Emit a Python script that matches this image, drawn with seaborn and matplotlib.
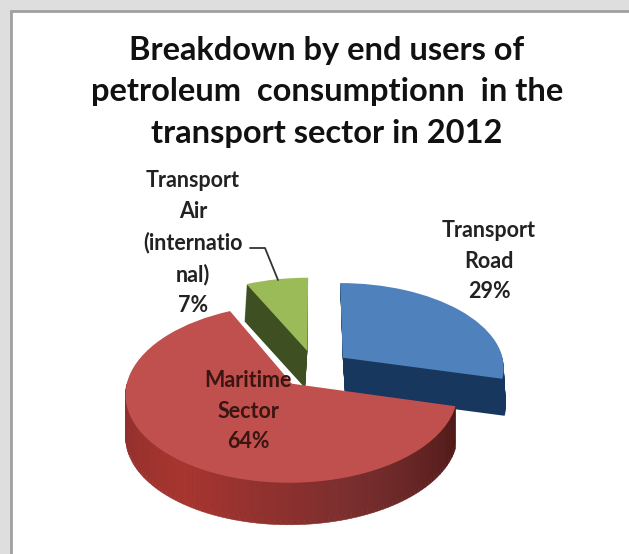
import numpy as np
import seaborn as sns
import matplotlib
matplotlib.use("Agg")
import matplotlib.pyplot as plt
from matplotlib.patches import Rectangle
from matplotlib.transforms import Transform

title = "Breakdown by end users of\npetroleum  consumptionn  in the\ntransport sector in 2012"
labels = ["Transport\nRoad", "Maritime\nSector", "Transport\nAir\n(internatio\nnal)"]
shares = [29, 64, 7]
explode = [0.22, 0.22, 0.22]
top_colors = ["#4F81BD", "#C0504D", "#9BBB59"]
side_colors = ["#17375E", "#7A2E2E", "#3E4F22"]
rim_colors = ["#8C2F2C", "#A8352F", "#7A2E2E", "#4D1A18"]


class Tilt(Transform):
    # unit pie -> pixels, far side squeezed a bit like the old 3D pies
    input_dims = 2
    output_dims = 2

    def __init__(self, drop=0, slide=0):
        super().__init__()
        self.drop = drop
        self.slide = slide

    def transform_non_affine(self, values):
        x, y = np.asarray(values).T
        w = 1 + 0.108 * y
        return np.column_stack([315 + 162 * x / w + self.slide, 369 - 85 * y / w + self.drop])


sns.set_theme(style="white")
plt.rcParams["font.family"] = ["Lato", "DejaVu Sans"]

fig = plt.figure(figsize=(6.29, 5.54), dpi=100, facecolor="#DEDEDE")
ax = fig.add_axes([0, 0, 1, 1])


def draw_pie(colors, drop, zorder):
    wedges, _ = ax.pie(shares, colors=colors, explode=explode, startangle=90,
                       counterclock=False, wedgeprops=dict(linewidth=0))
    slides = [0.06 * drop, 0, -0.06 * drop]
    for w, s in zip(wedges, slides):
        w.set_transform(Tilt(drop, s) + ax.transData)
        w.set_zorder(zorder)
    return wedges


for d in range(37, 0, -1):
    draw_pie(side_colors, d, 1)

top = draw_pie(top_colors, 0, 3)

# shaded outer wall of the big slice
red = top[1]
angles = np.linspace(-180, red.theta2, 90)
if red.theta2 > 180:
    angles = np.linspace(180, red.theta2, 90)
pal = sns.blend_palette(rim_colors, len(angles) - 1)
upper = Tilt(0)
lower = Tilt(42)
for a0, a1, c in zip(angles[:-1], angles[1:], pal):
    arc = np.deg2rad([a0, a1])
    pts = np.column_stack([red.center[0] + np.cos(arc), red.center[1] + np.sin(arc)])
    up = upper.transform(pts)
    lo = lower.transform(pts)[::-1]
    face = np.vstack([up, lo])
    ax.fill(face[:, 0], face[:, 1], color=c, linewidth=0.4, zorder=2)

ax.set_aspect("auto")
ax.set_xlim(0, 629)
ax.set_ylim(554, 0)
ax.axis("on")
ax.set_xticks([])
ax.set_yticks([])
for s in ax.spines.values():
    s.set_visible(False)
ax.patch.set_alpha(0)
ax.add_patch(Rectangle((11, 11), 640, 560, facecolor="white", edgecolor="#A0A0A0",
                       linewidth=2, zorder=0))

ax.text(327, 92, title, ha="center", va="center", fontsize=23.5, color="#111111",
        fontweight="bold", linespacing=1.52, zorder=5)

lbl_pos = [(489, 261), (248, 411), (193, 243)]
lbl_col = ["#222222", "#3A1512", "#222222"]
for name, val, (x, y), col in zip(labels, shares, lbl_pos, lbl_col):
    ax.text(x, y, f"{name}\n{val}%", ha="center", va="center", fontsize=15.5,
            color=col, fontweight="bold", linespacing=1.58, zorder=5)

ax.plot([250, 265, 278], [248, 248, 280], color="#333333", linewidth=1.3, zorder=5)

fig.savefig("out.png", dpi=100, facecolor=fig.get_facecolor())
